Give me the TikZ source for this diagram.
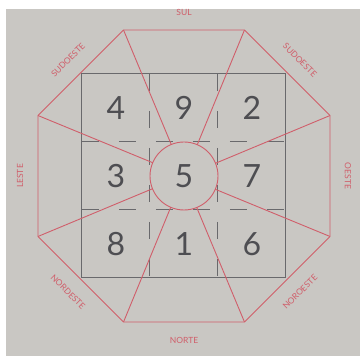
\documentclass[tikz,border=0pt]{standalone}
\usepackage{fontspec}
\setmainfont{Lato}
\usetikzlibrary{positioning, calc}
\definecolor{paper}{RGB}{201,199,195}
\definecolor{ink}{RGB}{78,78,82}
\definecolor{rose}{RGB}{208,94,106}

\begin{document}
\begin{tikzpicture}[
			x=1pt, y=1pt,
			redline/.style={draw=rose, line width=0.9pt},
			gridline/.style={draw=ink!85, line width=1pt},
			cellnum/.style={text=ink, font=\fontsize{32}{32}\selectfont, inner sep=0pt},
			dirlabel/.style={text=rose, font=\fontsize{8.5}{8.5}\selectfont, inner sep=0pt}
			]
			% Paper
			\fill[white] (0,0) rectangle (360,356);
			\fill[paper] (6,0) rectangle (360,347);
			\useasboundingbox (0,0) rectangle (360,356);
			\coordinate (ctr) at (184,180);
			
			% Square and grid
			\node (sq) [gridline, minimum size=204pt, inner sep=0pt, outer sep=0pt] at (ctr) {};
			\draw [gridline, dash pattern=on 17pt off 20pt] ($(sq.north west)!1/3!(sq.north east)$) -- ($(sq.south west)!1/3!(sq.south east)$);
			\draw [gridline, dash pattern=on 17pt off 20pt] ($(sq.north west)!2/3!(sq.north east)$) -- ($(sq.south west)!2/3!(sq.south east)$);
			\draw [gridline, dash pattern=on 17pt off 20pt] ($(sq.north west)!1/3!(sq.south west)$) -- ($(sq.north east)!1/3!(sq.south east)$);
			\draw [gridline, dash pattern=on 17pt off 20pt] ($(sq.north west)!2/3!(sq.south west)$) -- ($(sq.north east)!2/3!(sq.south east)$);
			
			% Octagon, circle and rays
			\node (mid) [circle, redline, minimum size=68pt, inner sep=0pt, outer sep=0pt] at (ctr) {};
			\foreach \a [count=\i] in {22.5,67.5,...,337.5}
				\coordinate (o\i) at ($(ctr)+(\a:158)$);
			\draw [redline] (o1) -- (o2) -- (o3) -- (o4) -- (o5) -- (o6) -- (o7) -- (o8) -- cycle;
			\foreach \a [count=\i] in {22.5,67.5,...,337.5}
				\draw [redline] (o\i) -- (mid.\a);
			
			% Numbers
			\node (n5) [cellnum] at (ctr) {5};
			\node (n4) [cellnum] at ($(ctr)+(-68,68)$) {4};
			\node (n9) [cellnum] at ($(ctr)+(0,68)$) {9};
			\node (n2) [cellnum] at ($(ctr)+(68,68)$) {2};
			\node (n3) [cellnum] at ($(ctr)+(-68,0)$) {3};
			\node (n7) [cellnum] at ($(ctr)+(68,0)$) {7};
			\node (n8) [cellnum] at ($(ctr)+(-68,-68)$) {8};
			\node (n1) [cellnum] at ($(ctr)+(0,-68)$) {1};
			\node (n6) [cellnum] at ($(ctr)+(68,-68)$) {6};
			
			% Directions
			\foreach \a/\r/\t in {90/0/SUL, 135/45/SUDOESTE, 180/90/LESTE, 225/-45/NORDESTE, 270/0/NORTE, 315/45/NOROESTE, 0/-90/OESTE, 45/-45/SUDOESTE}
				\node (d\a) [dirlabel, rotate=\r] at ($(ctr)+(\a:164)$) {\t};
		\end{tikzpicture}
\end{document}
